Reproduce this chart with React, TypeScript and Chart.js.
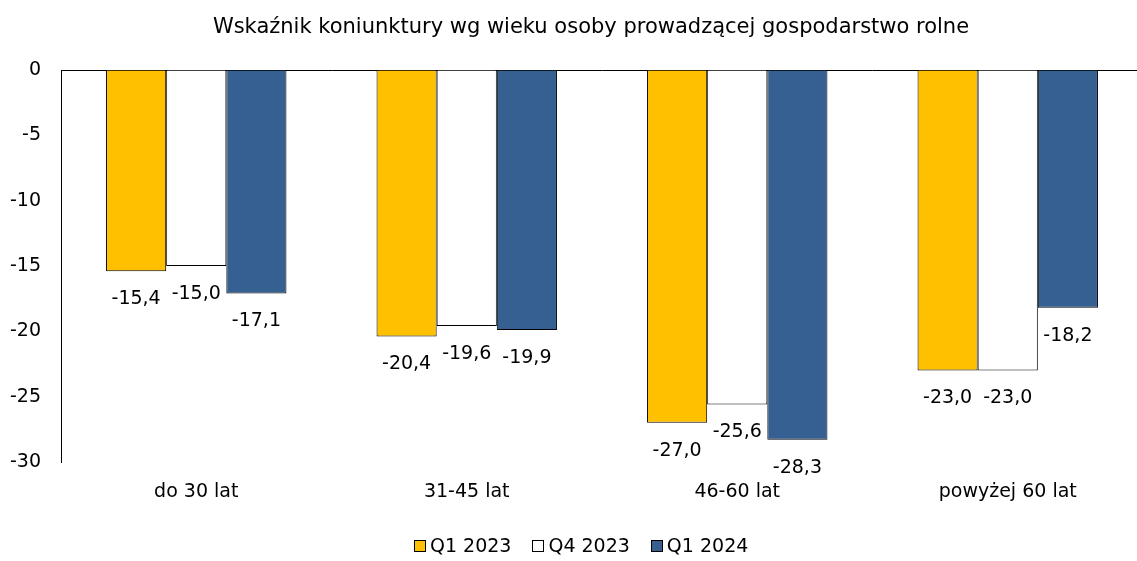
import React, { useEffect, useRef } from "react";
import { Chart, registerables } from "chart.js";

Chart.register(...registerables);

const categories = ["do 30 lat", "31-45 lat", "46-60 lat", "powyżej 60 lat"];
const seriesNames = ["Q1 2023", "Q4 2023", "Q1 2024"];
const q1_2023 = [-15.4, -20.4, -27.0, -23.0];
const q4_2023 = [-15.0, -19.6, -25.6, -23.0];
const q1_2024 = [-17.1, -19.9, -28.3, -18.2];
const yTicks = [0, -5, -10, -15, -20, -25, -30];
const titleText = "Wskaźnik koniunktury wg wieku osoby prowadzącej gospodarstwo rolne";

const FONT = "'DejaVu Sans', Tahoma, sans-serif";
const LABEL_SIZE = 19;
const TITLE_SIZE = 21;
const LEGEND_SIZE = 19;

const fmt = (v: number) => v.toFixed(1).replace(".", ",");

const dataLabels = {
  id: "dataLabels",
  afterDatasetsDraw(chart: any) {
    const ctx = chart.ctx;
    ctx.save();
    ctx.font = `${LABEL_SIZE}px ${FONT}`;
    ctx.fillStyle = "#000";
    ctx.textAlign = "center";
    ctx.textBaseline = "middle";
    chart.data.datasets.forEach((ds: any, di: number) => {
      const meta = chart.getDatasetMeta(di);
      meta.data.forEach((bar: any, i: number) => {
        const v = ds.data[i];
        ctx.fillText(fmt(v), bar.x, bar.y + 28);
      });
    });
    ctx.restore();
  },
};

const customTitle = {
  id: "customTitle",
  afterDraw(chart: any) {
    const ctx = chart.ctx;
    ctx.save();
    ctx.font = `${TITLE_SIZE}px ${FONT}`;
    ctx.fillStyle = "#000";
    ctx.textAlign = "center";
    ctx.textBaseline = "middle";
    ctx.fillText(titleText, 591, 28);
    ctx.restore();
  },
};

const customLegend = {
  id: "customLegend",
  afterDraw(chart: any) {
    const ctx = chart.ctx;
    ctx.save();
    ctx.font = `${LEGEND_SIZE}px ${FONT}`;
    const box = 12;
    const gap = 4;
    const itemGap = 21;
    const items = chart.data.datasets.map((ds: any) => ({
      label: ds.label,
      color: ds.backgroundColor,
      w: ctx.measureText(ds.label).width,
    }));
    const total =
      items.reduce((s: number, it: any) => s + box + gap + it.w, 0) +
      itemGap * (items.length - 1);
    let x = Math.round(581.5 - total / 2);
    const cy = 546;
    items.forEach((it: any) => {
      const bx = Math.round(x);
      ctx.fillStyle = it.color;
      ctx.fillRect(bx, cy - box / 2, box, box);
      ctx.strokeStyle = "#000";
      ctx.lineWidth = 1;
      ctx.strokeRect(bx + 0.5, cy - box / 2 + 0.5, box - 1, box - 1);
      ctx.fillStyle = "#000";
      ctx.textAlign = "left";
      ctx.textBaseline = "middle";
      ctx.fillText(it.label, x + box + gap, cy + 1);
      x += box + gap + it.w + itemGap;
    });
    ctx.restore();
  },
};

export default function App() {
  const ref = useRef<HTMLCanvasElement>(null);

  useEffect(() => {
    document.body.style.margin = "0";
    const canvas = ref.current;
    if (!canvas) return;
    const chart = new Chart(canvas, {
      type: "bar",
      data: {
        labels: categories,
        datasets: [
          {
            label: seriesNames[0],
            data: q1_2023,
            backgroundColor: "#FFC000",
            borderColor: "#000",
            borderWidth: 1,
          },
          {
            label: seriesNames[1],
            data: q4_2023,
            backgroundColor: "#FFFFFF",
            borderColor: "#000",
            borderWidth: 1,
          },
          {
            label: seriesNames[2],
            data: q1_2024,
            backgroundColor: "#366092",
            borderColor: "#000",
            borderWidth: 1,
          },
        ],
      },
      options: {
        responsive: false,
        animation: false,
        devicePixelRatio: 1,
        layout: { padding: { top: 70, bottom: 0, left: 0, right: 0 } },
        datasets: {
          bar: { barPercentage: 1, categoryPercentage: 0.667 },
        },
        plugins: {
          legend: { display: false },
          title: { display: false },
          tooltip: { enabled: false },
        },
        scales: {
          x: {
            grid: { display: false, drawTicks: false },
            border: { display: false },
            ticks: {
              color: "#000",
              font: { family: FONT, size: LABEL_SIZE },
              padding: 19,
              maxRotation: 0,
            },
            afterFit(scale: any) {
              scale.height = 99;
            },
          },
          y: {
            min: -30,
            max: 0,
            afterBuildTicks(scale: any) {
              scale.ticks = yTicks.map((v) => ({ value: v }));
            },
            grid: {
              drawTicks: false,
              color: (c: any) => (c.tick && c.tick.value === 0 ? "#000" : "rgba(0,0,0,0)"),
              lineWidth: 1,
            },
            border: { display: true, color: "#000", width: 1 },
            ticks: {
              color: "#000",
              font: { family: FONT, size: LABEL_SIZE },
              padding: 20,
              callback: (v: any) => String(v),
            },
            afterFit(scale: any) {
              scale.width = 61;
            },
          },
        },
      },
      plugins: [dataLabels, customTitle, customLegend],
    });
    return () => chart.destroy();
  }, []);

  return (
    <div style={{ width: 1137, height: 561, overflow: "hidden" }}>
      <canvas ref={ref} width={1143} height={561} style={{ width: 1143, height: 561, display: "block" }} />
    </div>
  );
}
